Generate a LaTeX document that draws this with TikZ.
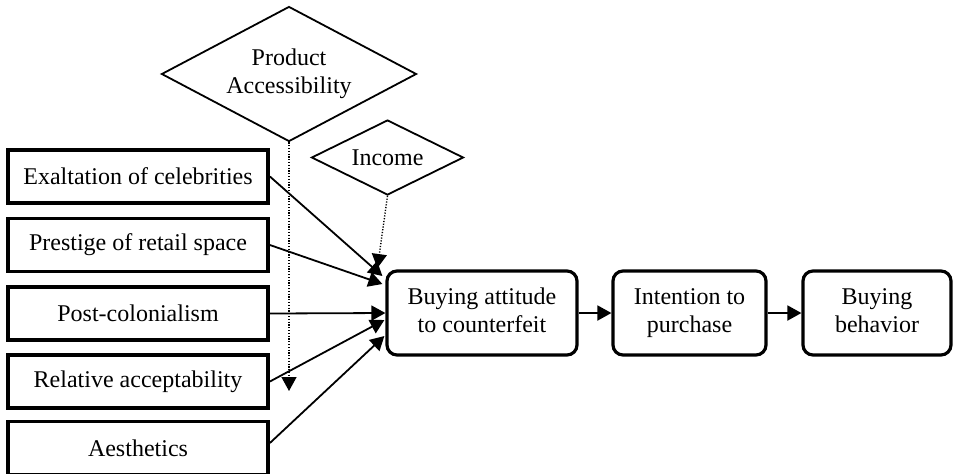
\documentclass[tikz,border=0pt]{standalone}
\usepackage{fontspec}
\setmainfont{Liberation Serif}
\usetikzlibrary{shapes.geometric,arrows.meta,calc}
\begin{document}
\begin{tikzpicture}[x=0.5pt,y=-0.5pt,
  font=\fontsize{12}{14}\selectfont,
  factor/.style={draw,line width=1.9pt,rectangle,minimum width=130pt,minimum height=26.5pt,inner sep=0pt,align=center},
  stage/.style={draw,line width=1.6pt,rounded corners=5pt,minimum height=42pt,inner sep=0pt,align=center},
  moderator/.style={draw,line width=0.9pt,diamond,inner sep=0pt,align=center},
  link/.style={line width=0.9pt,-{Triangle[length=7pt,width=7.5pt]}},
  dotlink/.style={line width=0.7pt,dash pattern=on 0.6pt off 0.8pt,-{Triangle[length=7pt,width=7.5pt]}}]
\useasboundingbox (0,0) rectangle (953,473);
\clip (0,0) rectangle (953,473);

% antecedent factors
\node[factor] (exa) at (138,176.5) {Exaltation of celebrities};
\node[factor] (pre) at (138,245)   {Prestige of retail space};
\node[factor] (pos) at (138,313.5) {Post-colonialism};
\node[factor] (rel) at (138,381.5) {Relative acceptability};
\node[factor] (aes) at (138,448)   {Aesthetics};

% moderators
\node[moderator,aspect=1.88,minimum width=127.5pt,minimum height=67.5pt] (acc) at (289,74) {Product\\Accessibility};
\node[moderator,aspect=2,minimum width=76pt,minimum height=37.5pt] (inc) at (387.5,157.5) {Income};

% attitude -> intention -> behaviour chain
\node[stage,minimum width=95pt]   (att) at (482,313)   {\strut Buying attitude\\\strut to counterfeit};
\node[stage,minimum width=76.5pt] (int) at (689.5,313) {\strut Intention to\\\strut purchase};
\node[stage,minimum width=74pt]   (beh) at (877,313)   {\strut Buying\\\strut behavior};

\draw[link] (att.east) -- (int.west);
\draw[link] (int.east) -- (beh.west);

% factor links into the attitude box
\draw[link] (exa.east) -- ($(att.west)+(-3,-37)$);
\draw[link] (pre.east) -- ($(att.west)+(-3,-29)$);
\draw[link] (pos.east) -- (att.west);
\draw[link] (rel.east) -- ($(att.west)+(-1,7)$);
\draw[link] ([yshift=2.5pt]aes.east) -- ($(att.west)+(-1,23)$);

% moderating influences
\coordinate (accend) at (289,391);
\draw[dotlink] (acc.south) -- (accend);
\draw[dotlink] (inc.south) -- ($(att.west)+(-8,-45)$);
\end{tikzpicture}
\end{document}
